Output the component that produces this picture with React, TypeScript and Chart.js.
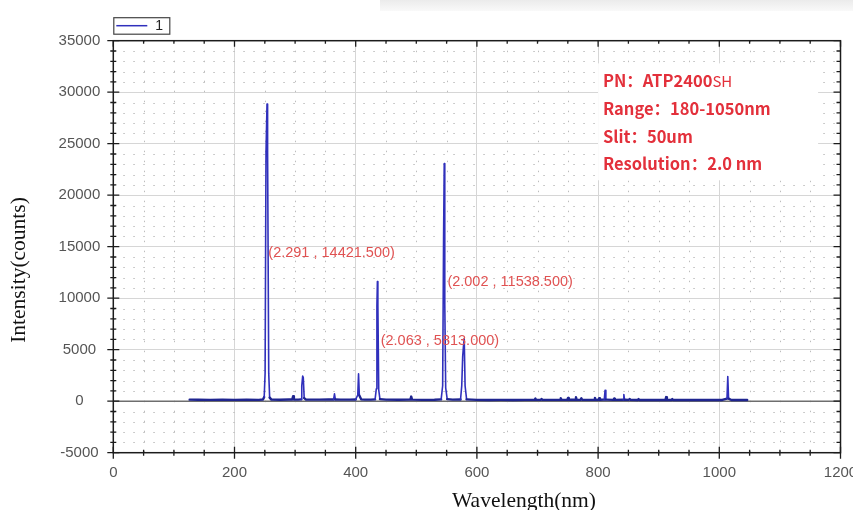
import React, { useEffect, useRef } from "react";
import { Chart, registerables } from "chart.js";

Chart.register(...registerables);

// ---------- data ----------
const seriesLabel = "1";

const wavelengths = [
  126, 140, 160, 180, 200, 220, 240, 247, 249, 250.5, 252, 253.65, 254.6, 256.5, 258, 261,
  275, 290, 295.3, 296.7, 298, 305, 310, 311, 312.5, 313.5, 315, 318, 330, 340, 355, 363.6,
  365, 366.4, 375, 390, 400, 403.4, 404.7, 406, 409, 415, 425, 432, 434, 435, 435.8, 436.6,
  438, 440, 450, 470, 488, 490.3, 491.6, 493, 510, 530, 541, 543.5, 545, 546.1, 547, 548.5, 551,
  560, 573, 575, 576.5, 577.8, 579.1, 580.5, 583, 600, 620, 640, 660, 680, 695.3, 696.5, 697.7,
  705.5, 706.7, 708, 720, 737.2, 738.4, 739.6, 749.2, 750.4, 751.6, 762.3, 763.5, 764.7, 771.2,
  772.4, 773.6, 793.6, 794.8, 796, 800.5, 801.7, 803, 810.2, 811.5, 812.8, 825.3, 826.5, 827.7,
  841.3, 842.5, 843.7, 850.9, 852.1, 853.3, 865.6, 866.8, 868, 890, 911.1, 912.3, 913.5, 921.2,
  922.4, 923.6, 950, 980, 1005, 1012.7, 1014, 1015.3, 1020, 1046,
];

const intensities = [
  150, 140, 130, 140, 130, 140, 130, 160, 400, 2700, 24200, 28843, 24200, 2700, 350, 150,
  140, 160, 170, 480, 170, 150, 180, 1500, 2450, 2300, 300, 150, 150, 150, 160, 170,
  720, 170, 150, 150, 170, 600, 2650, 550, 180, 150, 150, 180, 1200, 9300, 11626, 9300,
  1100, 200, 150, 140, 150, 150, 450, 150, 130, 140, 180, 1500, 15800, 23077, 9480, 1300, 200,
  150, 160, 1500, 4300, 5300, 6050, 1500, 180, 130, 120, 130, 120, 130, 130, 250, 130,
  130, 220, 130, 130, 130, 280, 130, 140, 320, 140, 140, 380, 140, 130,
  280, 130, 130, 320, 130, 130, 280, 140, 150, 1050, 150, 130, 250, 130,
  140, 650, 140, 130, 220, 130, 120, 200, 120, 120, 120, 400, 120, 120,
  200, 120, 120, 110, 120, 250, 2400, 250, 120, 110,
];

const xTicks = [0, 200, 400, 600, 800, 1000, 1200];
const yTicks = [-5000, 0, 5000, 10000, 15000, 20000, 25000, 30000, 35000];
const xMinorStep = 50;
const yMinorStep = 1000;

const peakLabelX = [255.8, 551.3, 441.2];
const peakLabelY = [14421.5, 11538.5, 5813];
const peakLabelText = ["(2.291 , 14421.500)", "(2.002 , 11538.500)", "(2.063 , 5813.000)"];

const infoBold = ["PN：ATP2400", "Range：180-1050nm", "Slit：50um", "Resolution：2.0 nm"];
const infoLight = ["SH", "", "", ""];
const infoLineY = [31100, 28400, 25700, 23080];

const xTitle = "Wavelength(nm)";
const yTitle = "Intensity(counts)";

// ---------- layout constants ----------
const W = 880;
const H = 510;
const AX_LEFT = 113.3;
const AX_TOP = 40.7;
const AX_BOTTOM = 452.7;
const AX_RIGHT = 840.5;

const LINE_COLOR = "#3030bc";
const BASE_COLOR = "#1f2590";
const SANS = '"Liberation Sans", Arial, sans-serif';
const SERIF = '"Liberation Serif", "Times New Roman", serif';
const CJK = '"Noto Sans CJK SC", "Noto Sans", sans-serif';

const minorGridPlugin = {
  id: "minorGrid",
  beforeDatasetsDraw(chart: any) {
    const { ctx, chartArea: a, scales } = chart;
    const xs = scales.x;
    const ys = scales.y;
    ctx.save();
    ctx.strokeStyle = "#bdbdbd";
    ctx.lineWidth = 1;
    ctx.setLineDash([1.5, 8.5]);
    for (let v = xs.min + xMinorStep; v < xs.max; v += xMinorStep) {
      if (xTicks.includes(v)) continue;
      const px = Math.round(xs.getPixelForValue(v)) + 0.5;
      ctx.beginPath();
      ctx.moveTo(px, a.top);
      ctx.lineTo(px, a.bottom);
      ctx.stroke();
    }
    for (let v = ys.min + yMinorStep; v < ys.max; v += yMinorStep) {
      if (yTicks.includes(v)) continue;
      const py = Math.round(ys.getPixelForValue(v)) + 0.5;
      ctx.beginPath();
      ctx.moveTo(a.left, py);
      ctx.lineTo(a.right, py);
      ctx.stroke();
    }
    ctx.setLineDash([]);
    // zero line
    const y0 = ys.getPixelForValue(0);
    ctx.strokeStyle = "#6e6e6e";
    ctx.lineWidth = 1.5;
    ctx.beginPath();
    ctx.moveTo(a.left, y0);
    ctx.lineTo(a.right, y0);
    ctx.stroke();
    ctx.restore();
  },
};

const overlayPlugin = {
  id: "overlay",
  afterDatasetsDraw(chart: any) {
    const { ctx, scales } = chart;
    const xs = scales.x;
    const ys = scales.y;
    ctx.save();
    // info box
    const bx0 = xs.getPixelForValue(800);
    const bx1 = xs.getPixelForValue(1163);
    const by0 = ys.getPixelForValue(32800);
    const by1 = ys.getPixelForValue(21450);
    ctx.fillStyle = "#ffffff";
    ctx.fillRect(bx0, by0, bx1 - bx0, by1 - by0);
    ctx.fillStyle = "#e3303b";
    ctx.textBaseline = "middle";
    ctx.textAlign = "left";
    for (let i = 0; i < infoBold.length; i++) {
      const tx = xs.getPixelForValue(808);
      const ty = ys.getPixelForValue(infoLineY[i]);
      ctx.font = `bold 16.5px ${CJK}`;
      ctx.fillText(infoBold[i], tx, ty);
      if (infoLight[i]) {
        const w = ctx.measureText(infoBold[i]).width;
        ctx.font = `15px ${CJK}`;
        ctx.fillText(infoLight[i], tx + w, ty + 0.5);
      }
    }
    // peak labels
    ctx.fillStyle = "#e05252";
    ctx.font = `14.5px ${SANS}`;
    for (let i = 0; i < peakLabelText.length; i++) {
      ctx.fillText(peakLabelText[i], xs.getPixelForValue(peakLabelX[i]), ys.getPixelForValue(peakLabelY[i]));
    }
    ctx.restore();
  },
  afterDraw(chart: any) {
    const { ctx, chartArea: a, scales } = chart;
    const xs = scales.x;
    const ys = scales.y;
    ctx.save();
    // frame
    ctx.strokeStyle = "#1c1c1c";
    ctx.lineWidth = 1.5;
    ctx.strokeRect(a.left, a.top, a.right - a.left, a.bottom - a.top);
    // ticks
    ctx.lineWidth = 1.3;
    ctx.beginPath();
    for (let v = xs.min; v <= xs.max; v += xMinorStep) {
      const major = xTicks.includes(v);
      const len = major ? 6 : 3;
      const px = xs.getPixelForValue(v);
      ctx.moveTo(px, a.bottom - len);
      ctx.lineTo(px, a.bottom + len);
      ctx.moveTo(px, a.top);
      ctx.lineTo(px, a.top + len);
    }
    for (let v = ys.min; v <= ys.max; v += yMinorStep) {
      const major = yTicks.includes(v);
      const len = major ? 6 : 3;
      const py = ys.getPixelForValue(v);
      ctx.moveTo(a.left - len, py);
      ctx.lineTo(a.left + len, py);
      ctx.moveTo(a.right - len - 1, py);
      ctx.lineTo(a.right, py);
    }
    ctx.stroke();

    // legend
    const lx = a.left;
    const ly = a.top - 23.5;
    ctx.strokeStyle = "#444";
    ctx.lineWidth = 1.2;
    ctx.strokeRect(lx + 0.5, ly + 0.5, 56, 16.5);
    ctx.strokeStyle = LINE_COLOR;
    ctx.lineWidth = 1.5;
    ctx.beginPath();
    ctx.moveTo(lx + 3, ly + 8.5);
    ctx.lineTo(lx + 34, ly + 8.5);
    ctx.stroke();
    ctx.fillStyle = "#222";
    ctx.font = `14px ${SANS}`;
    ctx.textAlign = "left";
    ctx.textBaseline = "middle";
    ctx.fillText(chart.data.datasets[0].label, lx + 42, ly + 9);

    // axis titles
    ctx.fillStyle = "#111";
    ctx.font = `21.5px ${SERIF}`;
    ctx.textAlign = "center";
    ctx.textBaseline = "alphabetic";
    ctx.fillText(xTitle, 524, 507);
    ctx.translate(25, 270);
    ctx.rotate(-Math.PI / 2);
    ctx.fillText(yTitle, 0, 0);
    ctx.restore();
  },
};

export default function App() {
  const ref = useRef<HTMLCanvasElement | null>(null);

  useEffect(() => {
    if (!ref.current) return;
    const data = wavelengths.map((x, i) => ({ x, y: intensities[i] }));
    const low = (c: any) => c.p0.parsed.y < 600 && c.p1.parsed.y < 600;
    const chart = new Chart(ref.current, {
      type: "line",
      data: {
        datasets: [
          {
            label: seriesLabel,
            data,
            borderColor: LINE_COLOR,
            backgroundColor: LINE_COLOR,
            borderWidth: 1.6,
            borderJoinStyle: "round",
            borderCapStyle: "round",
            pointRadius: 0,
            tension: 0,
            fill: false,
            segment: {
              borderColor: (c: any) => (low(c) ? BASE_COLOR : LINE_COLOR),
              borderWidth: (c: any) => (low(c) ? 2.4 : 1.6),
            },
          },
        ],
      },
      options: {
        responsive: false,
        animation: false,
        events: [],
        layout: { padding: { top: AX_TOP, right: W - AX_RIGHT, left: 0, bottom: 0 } },
        plugins: { legend: { display: false }, tooltip: { enabled: false }, title: { display: false } },
        scales: {
          x: {
            type: "linear",
            min: 0,
            max: 1200,
            afterBuildTicks: (s: any) => {
              s.ticks = xTicks.map((v) => ({ value: v }));
            },
            afterFit: (s: any) => {
              s.height = H - AX_BOTTOM;
            },
            ticks: {
              color: "#555",
              font: { family: SANS, size: 15 },
              padding: 11,
              maxRotation: 0,
              autoSkip: false,
              callback: (v: any) => String(v),
            },
            grid: { color: "#d6d6d6", lineWidth: 1, drawTicks: false },
            border: { display: false },
          },
          y: {
            type: "linear",
            min: -5000,
            max: 35000,
            afterBuildTicks: (s: any) => {
              s.ticks = yTicks.map((v) => ({ value: v }));
            },
            afterFit: (s: any) => {
              s.width = AX_LEFT;
            },
            ticks: {
              color: "#555",
              font: { family: SANS, size: 15 },
              padding: 13,
              crossAlign: "center",
              autoSkip: false,
              callback: (v: any) => String(v),
            },
            grid: { color: "#d6d6d6", lineWidth: 1, drawTicks: false },
            border: { display: false },
          },
        },
      },
      plugins: [minorGridPlugin, overlayPlugin],
    } as any);
    return () => chart.destroy();
  }, []);

  return (
    <div
      style={{
        position: "fixed",
        left: 0,
        top: 0,
        width: 853,
        height: 510,
        overflow: "hidden",
        background: "#fff",
      }}
    >
      <div
        style={{
          position: "absolute",
          left: 380,
          top: 0,
          width: 473,
          height: 11,
          background: "linear-gradient(#ebebeb, #f9f9f9)",
        }}
      />
      <canvas
        ref={ref}
        width={W}
        height={H}
        style={{ position: "absolute", left: 0, top: 0, display: "block" }}
      />
    </div>
  );
}
